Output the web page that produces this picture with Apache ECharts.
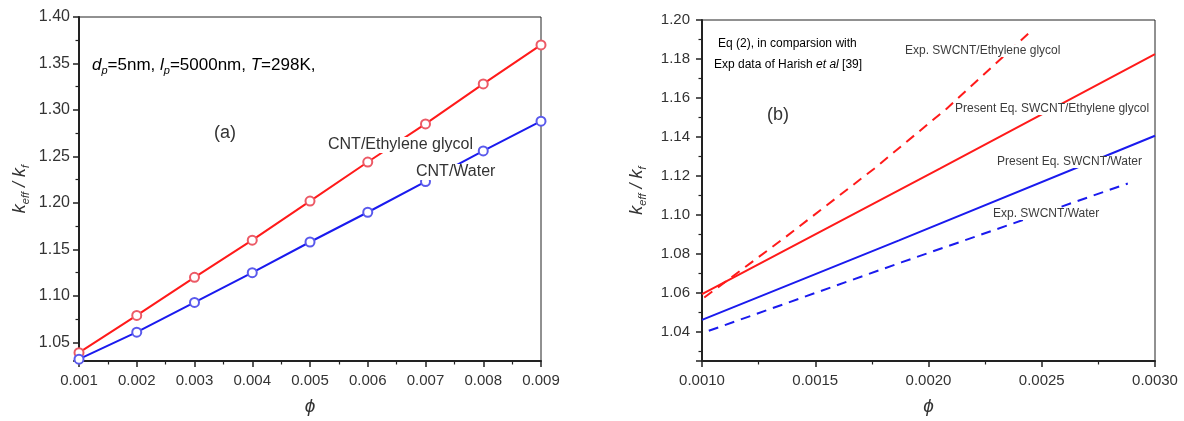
<!DOCTYPE html>
<html>
<head>
<meta charset="utf-8">
<script src="https://cdn.jsdelivr.net/npm/echarts@6/dist/echarts.min.js"></script>
<style>
html,body{margin:0;padding:0;background:#fff;}
#chart{width:1184px;height:421px;}
</style>
</head>
<body>
<div id="chart"></div>
<script>
// ---- Panel (a) data ----
const phiA = [0.001, 0.002, 0.003, 0.004, 0.005, 0.006, 0.007, 0.008, 0.009];
const cntEG = [1.039, 1.079, 1.120, 1.160, 1.202, 1.244, 1.285, 1.328, 1.370];
const cntWater = [1.032, 1.061, 1.093, 1.125, 1.158, 1.190, 1.223, 1.256, 1.288];

// ---- Panel (b) data ([phi, k]) ----
const presentEG = [[0.0010, 1.0593], [0.00205, 1.1237], [0.0030, 1.1825]];
const presentWater = [[0.0010, 1.0461], [0.00187, 1.0869], [0.0030, 1.1406]];
const expEG = [[0.00101, 1.0576], [0.00137, 1.0887], [0.00176, 1.1237], [0.00208, 1.1545], [0.00244, 1.1929]];
const expWater = [[0.00103, 1.0405], [0.00188, 1.0756], [0.00288, 1.1161]];

const FONT = 'Liberation Sans, Arial, sans-serif';
const TXT = '#333';
const RED = '#ff1a1a';
const BLUE = '#1a1aee';

const yName = '{k|k}{s|eff}{k| / k}{s|f}';
const yNameRich = {
  k: {fontFamily: FONT, fontStyle: 'italic', fontSize: 18, color: TXT, lineHeight: 22, verticalAlign: 'middle'},
  s: {fontFamily: FONT, fontStyle: 'italic', fontSize: 11, color: TXT, lineHeight: 22, verticalAlign: 'bottom'}
};

function axisCommon() {
  return {
    axisLine: {show: true, onZero: false, lineStyle: {color: '#222', width: 2}},
    axisTick: {show: true, inside: false, length: 6, lineStyle: {color: '#222', width: 1.5}},
    minorTick: {show: true, splitNumber: 2, length: 3.5, lineStyle: {color: '#222', width: 1.2}},
    splitLine: {show: false},
    minorSplitLine: {show: false}
  };
}

const chart = echarts.init(document.getElementById('chart'), null, {renderer: 'canvas'});

const option = {
  animation: false,
  backgroundColor: '#fff',
  grid: [
    {left: 79, top: 17, width: 462, height: 347, show: true, borderColor: '#222', borderWidth: 1, backgroundColor: 'transparent'},
    {left: 702, top: 20, width: 453, height: 343, show: true, borderColor: '#222', borderWidth: 1, backgroundColor: 'transparent'}
  ],
  xAxis: [
    Object.assign(axisCommon(), {
      type: 'value', gridIndex: 0, min: 0.001, max: 0.009, interval: 0.001,
      axisLabel: {margin: 12, fontFamily: FONT, fontSize: 15, color: TXT, formatter: v => v.toFixed(3)},
      name: 'ϕ', nameLocation: 'middle', nameGap: 36,
      nameTextStyle: {fontFamily: FONT, fontStyle: 'italic', fontSize: 19, color: TXT}
    }),
    Object.assign(axisCommon(), {
      type: 'value', gridIndex: 1, min: 0.001, max: 0.003, interval: 0.0005,
      axisLabel: {margin: 12, fontFamily: FONT, fontSize: 15, color: TXT, formatter: v => v.toFixed(4)},
      name: 'ϕ', nameLocation: 'middle', nameGap: 36,
      nameTextStyle: {fontFamily: FONT, fontStyle: 'italic', fontSize: 19, color: TXT}
    })
  ],
  yAxis: [
    Object.assign(axisCommon(), {
      type: 'value', gridIndex: 0, min: 1.03, max: 1.40, minInterval: 0.05, maxInterval: 0.05, splitNumber: 7,
      axisLabel: {margin: 9, fontFamily: FONT, fontSize: 16, color: TXT,
        formatter: v => (Math.abs(v * 20 - Math.round(v * 20)) < 1e-6 ? v.toFixed(2) : '')},
      name: yName, nameLocation: 'middle', nameGap: 48, nameRotate: 90,
      nameTextStyle: {rich: yNameRich}
    }),
    Object.assign(axisCommon(), {
      type: 'value', gridIndex: 1, min: 1.025, max: 1.20, minInterval: 0.02, maxInterval: 0.02, splitNumber: 8,
      axisLabel: {margin: 12, fontFamily: FONT, fontSize: 15, color: TXT,
        formatter: v => (Math.abs(v * 50 - Math.round(v * 50)) < 1e-6 ? v.toFixed(2) : '')},
      name: yName, nameLocation: 'middle', nameGap: 54, nameRotate: 90,
      nameTextStyle: {rich: yNameRich}
    })
  ],
  series: [
    {
      type: 'line', xAxisIndex: 0, yAxisIndex: 0, name: 'CNT/Ethylene glycol',
      data: phiA.map((p, i) => [p, cntEG[i]]),
      symbol: 'emptyCircle', symbolSize: 9,
      itemStyle: {color: '#ec5a66', borderWidth: 1.3},
      lineStyle: {color: RED, width: 2}, z: 3
    },
    {
      type: 'line', xAxisIndex: 0, yAxisIndex: 0, name: 'CNT/Water',
      data: phiA.map((p, i) => [p, cntWater[i]]),
      symbol: 'emptyCircle', symbolSize: 9,
      itemStyle: {color: '#5a5aec', borderWidth: 1.3},
      lineStyle: {color: BLUE, width: 2}, z: 3
    },
    {
      type: 'line', xAxisIndex: 1, yAxisIndex: 1, name: 'Present Eq. SWCNT/Ethylene glycol',
      data: presentEG, symbol: 'none', lineStyle: {color: RED, width: 2}
    },
    {
      type: 'line', xAxisIndex: 1, yAxisIndex: 1, name: 'Present Eq. SWCNT/Water',
      data: presentWater, symbol: 'none', lineStyle: {color: BLUE, width: 2}
    },
    {
      type: 'line', xAxisIndex: 1, yAxisIndex: 1, name: 'Exp. SWCNT/Ethylene glycol',
      data: expEG, symbol: 'none',
      lineStyle: {color: RED, width: 2, type: [10, 7]}
    },
    {
      type: 'line', xAxisIndex: 1, yAxisIndex: 1, name: 'Exp. SWCNT/Water',
      data: expWater, symbol: 'none', lineStyle: {color: BLUE, width: 2, type: [10, 7]}
    }
  ],
  graphic: [
    {type: 'text', x: 92, y: 65, z: 100, style: {
      text: '{i|d}{s|p}{n|=5nm, }{i|l}{s|p}{n|=5000nm, }{i|T}{n|=298K,}',
      verticalAlign: 'middle',
      rich: {
        i: {fontFamily: FONT, fontStyle: 'italic', fontSize: 17, color: TXT, lineHeight: 22, verticalAlign: 'middle'},
        n: {fontFamily: FONT, fontSize: 17, color: TXT, lineHeight: 22, verticalAlign: 'middle'},
        s: {fontFamily: FONT, fontStyle: 'italic', fontSize: 11, color: TXT, lineHeight: 22, verticalAlign: 'bottom'}
      }}},
    {type: 'text', x: 225, y: 133, z: 100, style: {text: '(a)', font: '18px ' + FONT, fill: TXT, align: 'center', verticalAlign: 'middle'}},
    {type: 'text', x: 328, y: 145, z: 100, style: {text: 'CNT/Ethylene glycol', font: '16px ' + FONT, fill: TXT, verticalAlign: 'middle', backgroundColor: '#fff'}},
    {type: 'text', x: 416, y: 172, z: 100, style: {text: 'CNT/Water', font: '16px ' + FONT, fill: TXT, verticalAlign: 'middle', backgroundColor: '#fff'}},
    {type: 'text', x: 778, y: 115, z: 100, style: {text: '(b)', font: '18px ' + FONT, fill: TXT, align: 'center', verticalAlign: 'middle'}},
    {type: 'text', x: 718, y: 44, z: 100, style: {
      text: '{b|Eq (2)}{g|, in comparsion with}', verticalAlign: 'middle',
      rich: {b: {fontFamily: FONT, fontSize: 12, color: '#4646e0'}, g: {fontFamily: FONT, fontSize: 12, color: '#3c3c3c'}}}},
    {type: 'text', x: 714, y: 65, z: 100, style: {
      text: '{g|Exp data of }{b|Harish }{bi|et al}{b| [39]}', verticalAlign: 'middle',
      rich: {b: {fontFamily: FONT, fontSize: 12, color: '#4646e0'}, bi: {fontFamily: FONT, fontStyle: 'italic', fontSize: 12, color: '#4646e0'},
        g: {fontFamily: FONT, fontSize: 12, color: '#3c3c3c'}}}},
    {type: 'text', x: 905, y: 51, z: 100, style: {text: 'Exp. SWCNT/Ethylene glycol', font: '12px ' + FONT, fill: '#3c3c3c', verticalAlign: 'middle', backgroundColor: '#fff'}},
    {type: 'text', x: 955, y: 109, z: 100, style: {text: 'Present Eq. SWCNT/Ethylene glycol', font: '12px ' + FONT, fill: '#3c3c3c', verticalAlign: 'middle', backgroundColor: '#fff'}},
    {type: 'text', x: 997, y: 162, z: 100, style: {text: 'Present Eq. SWCNT/Water', font: '12px ' + FONT, fill: '#3c3c3c', verticalAlign: 'middle', backgroundColor: '#fff'}},
    {type: 'text', x: 993, y: 214, z: 100, style: {text: 'Exp. SWCNT/Water', font: '12px ' + FONT, fill: '#3c3c3c', verticalAlign: 'middle', backgroundColor: '#fff'}}
  ]
};
chart.setOption(option);
</script>
</body>
</html>
